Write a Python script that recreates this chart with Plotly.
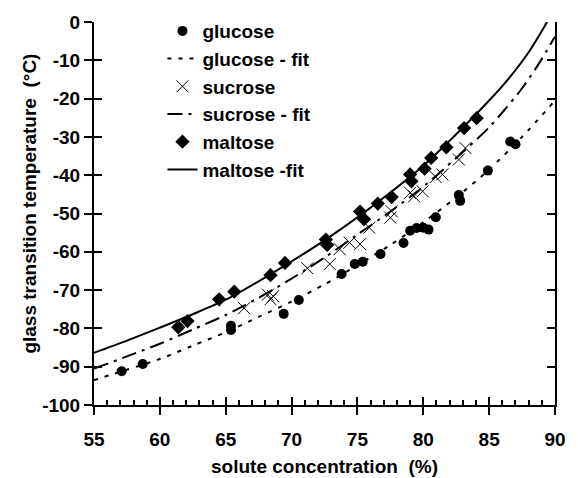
import plotly.graph_objects as go

# Measured glass transition temperatures (°C) vs. solute concentration (%)
glucose_x = [57.1, 58.7, 65.4, 65.4, 69.4, 70.55, 73.8, 74.8, 75.4, 76.75, 78.5,
             79.0, 79.5, 80.0, 80.4, 80.95, 82.7, 82.8, 84.9, 86.6, 87.0]
glucose_y = [-91.2, -89.3, -79.3, -80.4, -76.2, -72.6, -65.8, -63.2, -62.6, -60.6, -57.7,
             -54.5, -53.8, -53.7, -54.2, -51.0, -45.2, -46.7, -38.8, -31.2, -31.9]

sucrose_x = [66.4, 68.2, 68.4, 68.6, 71.2, 72.9, 73.65, 74.4, 75.2, 75.9, 77.5,
             77.6, 79.0, 79.3, 79.95, 80.95, 81.45, 82.7, 83.2]
sucrose_y = [-74.7, -71.2, -72.4, -71.6, -64.3, -63.2, -59.3, -57.6, -58.0, -53.7, -51.1,
             -49.4, -44.6, -45.5, -44.2, -40.5, -39.8, -35.9, -32.9]

maltose_x = [61.4, 62.1, 64.5, 65.65, 68.4, 69.5, 72.6, 72.7, 75.2, 75.5, 76.55,
             77.6, 79.0, 79.1, 80.1, 80.6, 81.75, 83.1, 84.05]
maltose_y = [-79.7, -78.1, -72.4, -70.4, -66.1, -62.9, -56.8, -58.2, -49.5, -51.5, -47.4,
             -45.7, -39.8, -41.6, -38.3, -35.5, -32.7, -27.7, -25.1]

# Fitted curves
glucose_fit_x = [55, 57.5, 60, 62.5, 65, 67.5, 70, 72.5, 75, 77.5, 80, 82.5, 85, 87.5, 90]
glucose_fit = [-93.5, -90.8, -88, -84.5, -81, -77, -73, -68.5, -63.5, -58.2, -52.3,
               -45.8, -38.5, -30, -20.5]
sucrose_fit_x = [55, 57.5, 60, 62.5, 65, 67.5, 70, 72.5, 75, 77.5, 80, 82.5, 85,
                 86.25, 87.5, 88.75, 90]
sucrose_fit = [-90.5, -87.3, -84, -80.3, -76.5, -72, -67, -61.5, -55.5, -49.5, -43,
               -35.5, -27.5, -22.6, -17.3, -11.0, -3.8]
maltose_fit_x = [55, 57.5, 60, 62.5, 65, 67.5, 70, 72.5, 75, 77.5, 80, 82.5, 85,
                 86.5, 88, 89.4]
maltose_fit = [-86.4, -83.2, -79.8, -76.3, -72.5, -67.7, -62.5, -57, -51, -44.5, -37.5,
               -29.3, -20.5, -14.7, -7.9, 0]

x_ticks = [55, 60, 65, 70, 75, 80, 85, 90]
y_ticks = [0, -10, -20, -30, -40, -50, -60, -70, -80, -90, -100]

FONT = "Liberation Sans, Arial, Helvetica, sans-serif"
BLACK = "black"

fig = go.Figure()

fig.add_trace(go.Scatter(
    x=glucose_x, y=glucose_y, mode="markers", name="glucose",
    marker=dict(symbol="circle", size=10, color=BLACK)))
fig.add_trace(go.Scatter(
    x=glucose_fit_x, y=glucose_fit, mode="lines", name="glucose - fit",
    line=dict(color=BLACK, width=2, dash="4px,7px", shape="spline", smoothing=0.8)))
fig.add_trace(go.Scatter(
    x=sucrose_x, y=sucrose_y, mode="markers", name="sucrose",
    marker=dict(symbol="x-thin", size=12, color=BLACK, line=dict(width=1, color=BLACK))))
fig.add_trace(go.Scatter(
    x=sucrose_fit_x, y=sucrose_fit, mode="lines", name="sucrose - fit",
    line=dict(color=BLACK, width=2, dash="15px,6px,3px,6px", shape="spline", smoothing=0.8)))
fig.add_trace(go.Scatter(
    x=maltose_x, y=maltose_y, mode="markers", name="maltose",
    marker=dict(symbol="diamond", size=11, color=BLACK)))
fig.add_trace(go.Scatter(
    x=maltose_fit_x, y=maltose_fit, mode="lines", name="maltose -fit",
    line=dict(color=BLACK, width=2, shape="spline", smoothing=0.8)))

# Empty traces so the overlay axes (inner tick halves, right frame) get drawn
fig.add_trace(go.Scatter(x=[], y=[], xaxis="x2", yaxis="y", showlegend=False, hoverinfo="skip"))
fig.add_trace(go.Scatter(x=[], y=[], xaxis="x", yaxis="y2", showlegend=False, hoverinfo="skip"))
fig.add_trace(go.Scatter(x=[], y=[], xaxis="x", yaxis="y3", showlegend=False, hoverinfo="skip"))

tickfont = dict(family=FONT, size=19, color=BLACK, weight="bold")

fig.update_layout(
    width=578, height=478,
    margin=dict(l=94, r=12, t=20, b=73),
    paper_bgcolor="white", plot_bgcolor="white",
    font=dict(family=FONT, size=19, color=BLACK, weight="bold"),
    showlegend=True,
    legend=dict(x=0.1485, y=1.026, xanchor="left", yanchor="top",
                bgcolor="rgba(0,0,0,0)", borderwidth=0,
                font=dict(family=FONT, size=19, color=BLACK, weight="bold")),
    xaxis=dict(range=[55, 90], tickvals=x_ticks, ticktext=[str(v) for v in x_ticks],
               ticks="outside", ticklen=8, tickwidth=2, tickcolor=BLACK,
               showline=True, linewidth=2, linecolor=BLACK, showgrid=False,
               zeroline=False, tickfont=tickfont, ticklabelstandoff=8),
    xaxis2=dict(range=[55, 90], overlaying="x", side="bottom", anchor="y",
                tickvals=x_ticks, ticks="inside", ticklen=8, tickwidth=2, tickcolor=BLACK,
                showticklabels=False, showline=False, showgrid=False, zeroline=False,
                minor=dict(dtick=1, tick0=55, ticks="inside", ticklen=5, tickwidth=1.5,
                           tickcolor=BLACK, showgrid=False)),
    yaxis=dict(range=[-100, 0], tickvals=y_ticks, ticktext=[str(v) for v in y_ticks],
               ticks="outside", ticklen=8, tickwidth=2, tickcolor=BLACK,
               showline=True, linewidth=2, linecolor=BLACK, showgrid=False,
               zeroline=False, tickfont=tickfont),
    yaxis2=dict(range=[-100, 0], overlaying="y", side="right", anchor="x",
                tickvals=y_ticks, ticks="inside", ticklen=8, tickwidth=2, tickcolor=BLACK,
                showticklabels=False, showline=True, linewidth=2, linecolor=BLACK,
                showgrid=False, zeroline=False),
    yaxis3=dict(range=[-100, 0], overlaying="y", side="left", anchor="x",
                tickvals=y_ticks, ticks="inside", ticklen=8, tickwidth=2, tickcolor=BLACK,
                showticklabels=False, showline=False, showgrid=False, zeroline=False),
    annotations=[
        dict(text="solute concentration  (%)", xref="paper", yref="paper",
             x=0.5, y=-0.161, xanchor="center", yanchor="middle", showarrow=False,
             font=dict(family=FONT, size=19, color=BLACK, weight="bold")),
        dict(text="glass transition temperature  (°C)", xref="paper", yref="paper",
             x=-0.14, y=0.527, xanchor="center", yanchor="middle", textangle=-90,
             showarrow=False,
             font=dict(family=FONT, size=19, color=BLACK, weight="bold")),
    ],
)

fig.write_html("out.html")
